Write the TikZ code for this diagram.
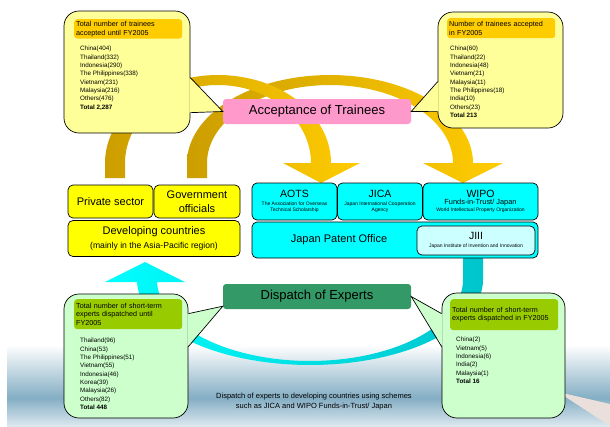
\documentclass[tikz,border=0pt]{standalone}
\usepackage{fontspec}
\setmainfont{Liberation Sans}
\usetikzlibrary{calc}
\definecolor{calloutY}{HTML}{FFFF99}
\definecolor{headY}{HTML}{FFCC00}
\definecolor{calloutG}{HTML}{CCFFCC}
\definecolor{headG}{HTML}{99CC00}
\definecolor{pinkbox}{HTML}{FF99CC}
\definecolor{greenbox}{HTML}{339966}
\definecolor{boxY}{HTML}{FFFF00}
\definecolor{boxC}{HTML}{00FFFF}
\definecolor{boxLC}{HTML}{CCFFFF}
\definecolor{goldDark}{HTML}{CC9E00}
\definecolor{gold}{HTML}{FFCC00}
\definecolor{turq}{HTML}{00C4CC}
\definecolor{bandBlue}{HTML}{84AEC4}
\definecolor{bandLight}{HTML}{DCE8EF}
\definecolor{wedgePink}{HTML}{EBDFDC}
\newcommand{\fsz}[2]{\fontsize{#1}{#2}\selectfont}

\begin{document}
\begin{tikzpicture}[x=1pt,y=-1pt,
  ybox/.style={draw, line width=0.7pt, fill=boxY, rounded corners=5pt, inner sep=0pt, align=center, font=\fsz{11}{13.5}},
  cbox/.style={draw, line width=0.7pt, fill=boxC, rounded corners=5pt, inner sep=0pt, align=center, font=\fsz{5}{6}},
  tag/.style={rounded corners=3pt, inner sep=0pt, minimum width=188pt, minimum height=25pt, font=\fsz{13}{15}},
  bubble/.style={draw, line width=0.7pt, rounded corners=15pt, inner sep=0pt},
  hdr/.style={rounded corners=3pt, inner sep=2pt, text width=104pt, align=left, anchor=north west, font=\fsz{7.2}{8.6}},
  items/.style={inner sep=0pt, align=left, anchor=north west, font=\fsz{6.3}{8.35}}]
\useasboundingbox (0,0) rectangle (610,426);

% background band
\shade[top color=white, bottom color=bandBlue] (7,345) rectangle (610,398);
\shade[top color=bandBlue, bottom color=bandLight] (7,398) rectangle (610,426);
\fill[wedgePink] (558,392) -- (610,404) -- (610,426) -- cycle;

% dispatch arc
\shade[left color=boxC, middle color=boxC, right color=turq]
  (463,257) -- (483,257)
  -- plot[domain=0:180, samples=60] ({310+173*cos(\x)},{280+85*sin(\x)})
  -- (137,282) -- (105,282) -- (145,262) -- (185,282) -- (157,282)
  -- plot[domain=180:0, samples=60] ({310+153*cos(\x)},{280+81*sin(\x)})
  -- cycle;

% acceptance arcs
\shade[left color=goldDark, right color=gold]
  (187,178) -- (187,163)
  -- plot[domain=180:0, samples=60] ({330+143*cos(\x)},{163-88*sin(\x)})
  -- (503,163) -- (463,183) -- (423,163)
  -- plot[domain=0:180, samples=60] ({330+123*cos(\x)},{163-78*sin(\x)})
  -- (207,178) -- cycle;
\shade[left color=goldDark, right color=gold]
  (105,178) -- (105,163)
  -- plot[domain=180:0, samples=60] ({218+113*cos(\x)},{163-88*sin(\x)})
  -- (360,163) -- (321,183) -- (283,163)
  -- plot[domain=0:180, samples=60] ({218+93*cos(\x)},{163-78*sin(\x)})
  -- (125,178) -- cycle;

\node[tag, fill=pinkbox] (accept) at (317,111.5) {Acceptance of Trainees};
\node[tag, fill=greenbox] (dispatch) at (317,296.5) {Dispatch of Experts};

% trainees callouts
\node[bubble, fill=calloutY, minimum width=126pt, minimum height=122pt] (trainTot) at (127,72) {};
\fill[calloutY] ($(trainTot.north east)+(-1,67)$) -- (accept.west) -- ($(trainTot.north east)+(-1,102)$) -- cycle;
\draw[line width=0.7pt] ($(trainTot.north east)+(0,67)$) -- (accept.west) -- ($(trainTot.north east)+(0,102)$);
\node[hdr, fill=headY, minimum height=19pt] (trainTotHd) at (74,19) {Total number of trainees\\accepted until FY2005};
\node[items] (trainTotList) at (80,46) {China(404)\\Thailand(332)\\Indonesia(290)\\The Philippines(338)\\Vietnam(231)\\Malaysia(216)\\Others(476)\\\textbf{Total 2,287}};

\node[bubble, fill=calloutY, minimum width=125pt, minimum height=116pt] (trainFY) at (500.5,70) {};
\fill[calloutY] ($(trainFY.north west)+(1,70)$) -- (accept.east) -- ($(trainFY.north west)+(1,100)$) -- cycle;
\draw[line width=0.7pt] ($(trainFY.north west)+(0,70)$) -- (accept.east) -- ($(trainFY.north west)+(0,100)$);
\node[hdr, fill=headY, minimum height=20pt] (trainFYHd) at (447,18) {Number of trainees accepted\\in FY2005};
\node[items] (trainFYList) at (450,46) {China(60)\\Thailand(22)\\Indonesia(48)\\Vietnam(21)\\Malaysia(11)\\The Philippines(18)\\India(10)\\Others(23)\\\textbf{Total 213}};

% experts callouts
\node[bubble, fill=calloutG, minimum width=124pt, minimum height=124pt] (expTot) at (126,356) {};
\fill[calloutG] ($(expTot.north east)+(-1,20)$) -- ($(dispatch.south west)+(0,-3)$) -- ($(expTot.north east)+(-1,53)$) -- cycle;
\draw[line width=0.7pt] ($(expTot.north east)+(0,20)$) -- ($(dispatch.south west)+(0,-3)$) -- ($(expTot.north east)+(0,53)$);
\node[hdr, fill=headG, minimum height=30pt] (expTotHd) at (74,299) {Total number of short-term\\experts dispatched until\\FY2005};
\node[items] (expTotList) at (80,338) {Thailand(96)\\China(53)\\The Philippines(51)\\Vietnam(55)\\Indonesia(46)\\Korea(39)\\Malaysia(26)\\Others(82)\\\textbf{Total 448}};

\node[bubble, fill=calloutG, minimum width=123pt, minimum height=125pt] (expFY) at (503.5,355.5) {};
\fill[calloutG] ($(expFY.north west)+(1,21)$) -- (dispatch.east) -- ($(expFY.north west)+(1,54)$) -- cycle;
\draw[line width=0.7pt] ($(expFY.north west)+(0,21)$) -- (dispatch.east) -- ($(expFY.north west)+(0,54)$);
\node[hdr, fill=headG, minimum height=31pt] (expFYHd) at (450,299) {Total number of short-term\\experts dispatched in FY2005};
\node[items] (expFYList) at (456,337) {China(2)\\Vietnam(5)\\Indonesia(6)\\India(2)\\Malaysia(1)\\\textbf{Total 16}};

% developing countries
\node[ybox, minimum width=85pt, minimum height=33pt] (priv) at (110.5,201.5) {Private sector};
\node[ybox, minimum width=86pt, minimum height=33pt] (gov) at (197,201.5) {Government\\officials};
\node[ybox, minimum width=172pt, minimum height=36pt] (devc) at (154,238.5) {Developing countries\\\fsz{8.6}{10.5}(mainly in the Asia-Pacific region)};

% japan side
\node[cbox, minimum width=85pt, minimum height=37pt] (aots) at (294.5,201.5) {\fsz{10.5}{11}AOTS\\[2pt]The Association for Overseas\\Technical Scholarship};
\node[cbox, minimum width=85pt, minimum height=37pt] (jica) at (380,201.5) {\fsz{10.5}{11}JICA\\[2pt]Japan International Cooperation\\Agency};
\node[cbox, minimum width=115pt, minimum height=37pt] (wipo) at (480.5,201.5) {\fsz{10.5}{11}WIPO\\[1pt]\fsz{7.4}{8.5}Funds-in-Trust/ Japan\\[1pt]World Intellectual Property Organization};
\node[cbox, minimum width=286pt, minimum height=36pt] (jpo) at (395,240) {};
\node[font=\fsz{11}{13}] (jpoText) at (339,240) {Japan Patent Office};
\node[cbox, fill=boxLC, minimum width=118pt, minimum height=29pt] (jiii) at (476,240.5) {\fsz{10.5}{11}JIII\\[2pt]Japan Institute of Invention and Innovation};

\node[align=center, font=\fsz{7.5}{10}] (note) at (314,402) {Dispatch of experts to developing countries using schemes\\such as JICA and WIPO Funds-in-Trust/ Japan};
\end{tikzpicture}
\end{document}
